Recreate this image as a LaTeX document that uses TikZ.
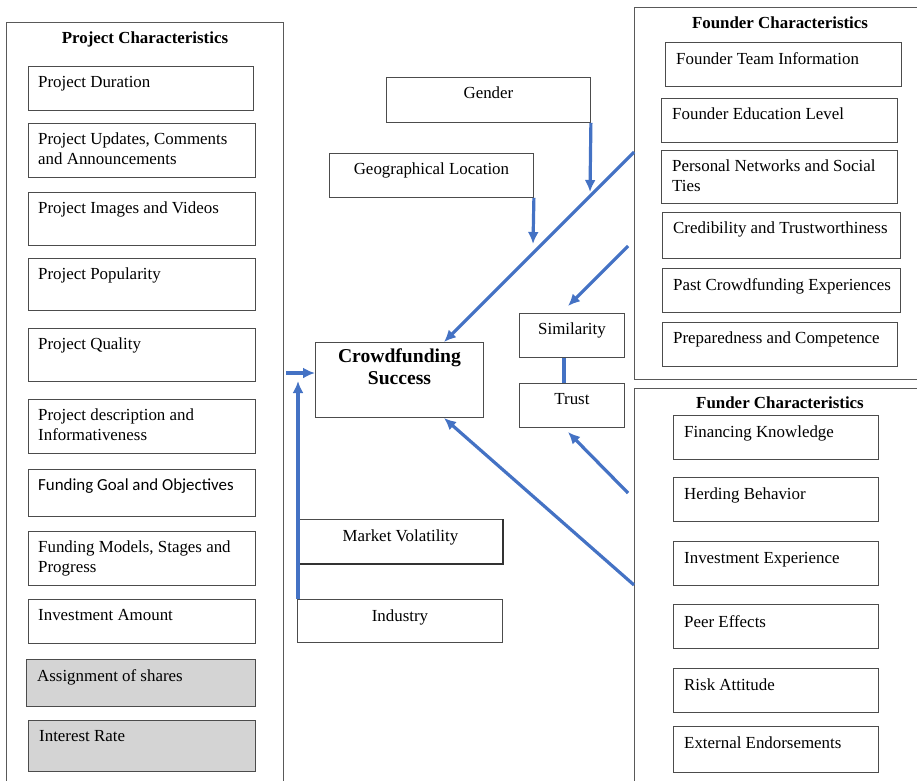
\documentclass[tikz,border=0pt]{standalone}
\usepackage{fontspec}
\setmainfont{Liberation Serif}
\newfontfamily\calibfont{Carlito}
\usetikzlibrary{arrows.meta,calc}
\definecolor{flowblue}{RGB}{68,114,196}
\tikzset{
  box/.style={draw=black!70, line width=0.9pt, anchor=north west, inner sep=0pt},
  graybox/.style={box, fill=black!17},
  frame/.style={draw=black!65, line width=0.9pt},
  itemtext/.style={anchor=north west, inner sep=0pt, align=left, font=\fontsize{16.9}{19.5}\selectfont},
  midtext/.style={itemtext, anchor=north, align=center},
  headtext/.style={anchor=north, inner sep=0pt, font=\fontsize{16.9}{19.5}\selectfont\bfseries},
  flow/.style={flowblue, line width=3.2pt},
}
\begin{document}
\begin{tikzpicture}[x=1pt, y=-1pt, >={Latex[length=12pt,width=11pt]}]
\useasboundingbox (0,0) rectangle (917,780);

% frames
\draw[frame] (6,790) |- (283,22) -- (283,790);
\draw[frame] (930,7) -| (634,379) -- (930,379);
\draw[frame] (930,388) -| (634,790);
\node[headtext] (projhead) at (145,32) {Project Characteristics};
\node[headtext] (foundhead) at (780,17) {Founder Characteristics};
\node[headtext] (fundhead) at (780,397) {Funder Characteristics};

% project characteristics
\foreach \n/\x/\y/\w/\h/\txt in {1/28/66/225/44/Project Duration,
    2/28/123/227/54/{Project Updates, Comments\\and Announcements},
    3/28/192/227/53/Project Images and Videos,
    4/28/258/227/52/Project Popularity,
    5/28/328/227/53/Project Quality,
    6/28/399/227/54/{Project description and\\Informativeness},
    7/28/469/227/47/{\calibfont Funding Goal and Objectives},
    8/28/531/227/54/{Funding Models, Stages and\\Progress},
    9/28/599/227/44/Investment Amount}
{
    \node[box, minimum width=\w pt, minimum height=\h pt] (p\n) at (\x,\y) {};
    \node[itemtext] (p\n t) at ($(p\n.north west)+(10,10)$) {\txt};
}
\foreach \n/\x/\y/\w/\h/\txt in {10/26/659/229/47/Assignment of shares,
    11/28/720/227/51/Interest Rate}
{
    \node[graybox, minimum width=\w pt, minimum height=\h pt] (p\n) at (\x,\y) {};
    \node[itemtext] (p\n t) at ($(p\n.north west)+(11,10)$) {\txt};
}

% founder characteristics
\foreach \n/\x/\y/\w/\h/\txt in {1/665/42/236/44/Founder Team Information,
    2/661/98/236/44/Founder Education Level,
    3/661/150/236/53/{Personal Networks and Social\\Ties},
    4/662/212/238/46/Credibility and Trustworthiness,
    5/662/268/238/44/Past Crowdfunding Experiences,
    6/662/322/235/44/Preparedness and Competence}
{
    \node[box, minimum width=\w pt, minimum height=\h pt] (f\n) at (\x,\y) {};
    \node[itemtext] (f\n t) at ($(f\n.north west)+(11,10)$) {\txt};
}

% funder characteristics
\foreach \n/\y/\h/\txt in {1/415/44/Financing Knowledge,
    2/477/44/Herding Behavior,
    3/541/44/Investment Experience,
    4/604/44/Peer Effects,
    5/668/44/Risk Attitude,
    6/726/46/External Endorsements}
{
    \node[box, minimum width=205pt, minimum height=\h pt] (u\n) at (673,\y) {};
    \node[itemtext] (u\n t) at ($(u\n.north west)+(11,11)$) {\txt};
}

% middle
\node[box, minimum width=204pt, minimum height=45pt] (gender) at (386,77) {};
\node[midtext] (gendert) at ($(gender.north)+(0,10)$) {Gender};
\node[box, minimum width=204pt, minimum height=44pt] (geo) at (329,153) {};
\node[midtext] (geot) at ($(geo.north)+(0,10)$) {Geographical Location};
\node[box, minimum width=168pt, minimum height=75pt, align=center,
      font=\fontsize{19.6}{22}\selectfont\bfseries] (cs) at (315,342) {Crowdfunding\\Success\\[4pt]};
\node[box, minimum width=105pt, minimum height=44pt] (sim) at (519,313) {};
\node[midtext] (simt) at ($(sim.north)+(0,10)$) {Similarity};
\node[box, minimum width=105pt, minimum height=44pt] (tr) at (519,383) {};
\node[midtext] (trt) at ($(tr.north)+(0,10)$) {Trust};
\node[box, minimum width=204pt, minimum height=44pt] (mv) at (298,519) {};
\draw[black!80, line width=1.8pt] (mv.north east) -- (mv.south east) -- (mv.south west);
\node[midtext] (mvt) at ($(mv.north)+(0,11)$) {Market Volatility};
\node[box, minimum width=205pt, minimum height=43pt] (ind) at (297,599) {};
\node[midtext] (indt) at ($(ind.north)+(0,11)$) {Industry};

% connectors
\coordinate (gtip) at (590,192);
\coordinate (ltip) at (533,244);
\coordinate (fd1) at (634,152);
\coordinate (cstop) at (444,342);
\coordinate (fd2) at (628,246);
\coordinate (simtop) at (568,306);
\coordinate (fn1) at (628,493);
\coordinate (trbot) at (568,432);
\coordinate (fn2) at (634,585);
\coordinate (csbot) at (444,418);
\coordinate (pc) at (286,373);
\coordinate (vtip) at (298,381);
\draw[flow, ->] (gender.south east) -- (gtip);
\draw[flow, ->] (geo.south east) -- (ltip);
\draw[flow, ->] (fd1) -- (cstop);
\draw[flow, ->] (fd2) -- (simtop);
\draw[flow] ($(sim.south)+(-8,0)$) -- ($(tr.north)+(-8,0)$);
\draw[flow, ->] (fn1) -- (trbot);
\draw[flow, ->] (fn2) -- (csbot);
\draw[flow, ->] (pc) -- (pc -| cs.west);
\draw[flow, ->] ($(ind.north west)+(1,0)$) -- (vtip);

\end{tikzpicture}
\end{document}
